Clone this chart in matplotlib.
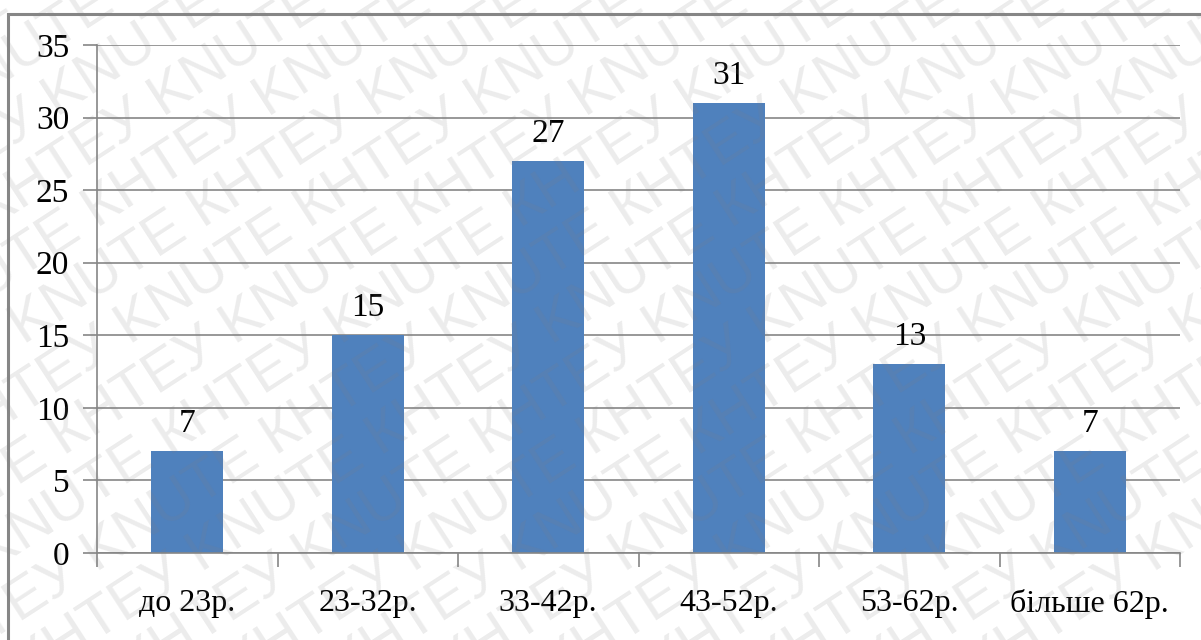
import matplotlib.pyplot as plt
from matplotlib.patches import Rectangle
import numpy as np

# age groups and counts
groups = ['до 23р.', '23-32р.', '33-42р.', '43-52р.', '53-62р.', 'більше 62р.']
counts = [7, 15, 27, 31, 13, 7]
yticks = [0, 5, 10, 15, 20, 25, 30, 35]

fig = plt.figure(figsize=(12.01, 6.4), dpi=100)
ax = fig.add_axes([97/1201, 1-553/640, (1180-97)/1201, (553-45)/640])

x = np.arange(len(groups))
ax.bar(x, counts, width=0.4, color='#4F81BD', zorder=2)

for xi, c in zip(x, counts):
    ax.annotate(str(c), (xi, c), xytext=(0, 9), textcoords='offset points',
                ha='center', va='bottom', fontsize=24, family='Liberation Serif')

ax.set_xlim(-0.5, len(groups) - 0.5)
ax.set_ylim(0, 35)
ax.set_yticks(yticks)
ax.set_yticklabels([str(t) for t in yticks], fontsize=24, family='Liberation Serif')
ax.yaxis.grid(True, color='#868686', linewidth=1.2, zorder=0)
ax.set_axisbelow(True)

# category labels between boundary ticks
ax.set_xticks(np.arange(len(groups) + 1) - 0.5)
ax.set_xticklabels([])
ax.tick_params(axis='x', length=10, color='#868686', width=1.2)
ax.tick_params(axis='y', length=10, color='#868686', width=1.2, pad=10)
ax.set_xticks(x, minor=True)
ax.set_xticklabels(groups, minor=True, fontsize=23, family='Liberation Serif')
ax.tick_params(axis='x', which='minor', length=0, pad=26)

for s in ['top', 'right']:
    ax.spines[s].set_visible(False)
for s in ['left', 'bottom']:
    ax.spines[s].set_color('#868686')
    ax.spines[s].set_linewidth(1.2)

# outer chart frame (cut off at right and bottom)
fig.patches.append(Rectangle((8/1201, -0.1), 1.1, 1.1 - 14/640, transform=fig.transFigure,
                             fill=False, edgecolor='#868686', linewidth=2.2, zorder=5))

# watermark
wm = 'KNUTE КНТЕУ ' * 5
for k in range(-12, 12):
    fig.text(-0.3 + k * 0.088, -0.25, wm, rotation=33, rotation_mode='anchor',
             fontsize=42, color='#808080', alpha=0.15, family='Liberation Sans',
             ha='left', va='baseline', zorder=10)

fig.savefig('out.png', dpi=100)
